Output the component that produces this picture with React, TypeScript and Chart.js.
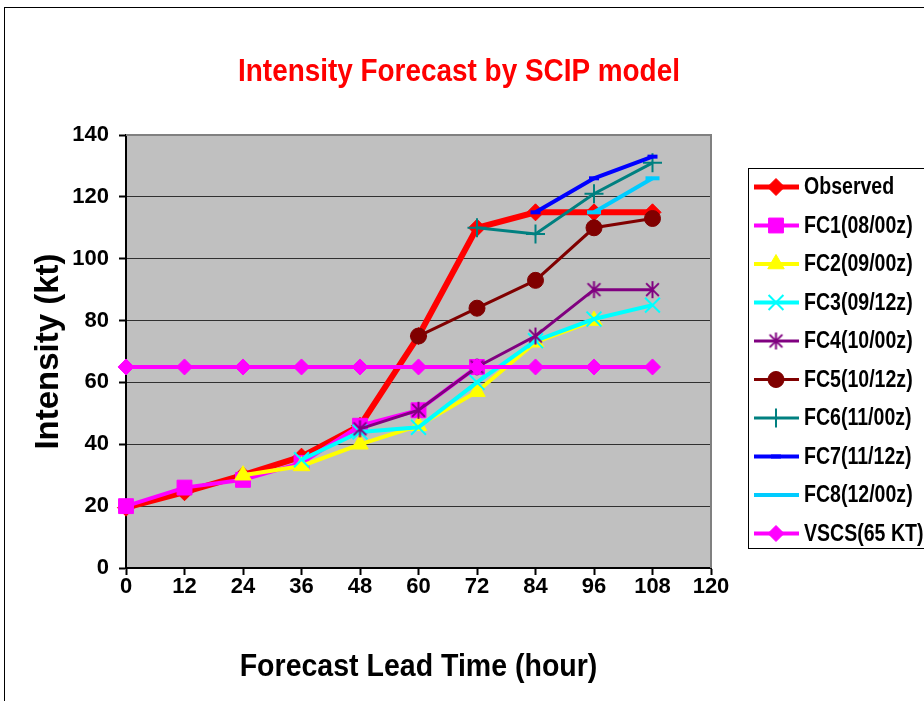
import React, { useEffect, useRef } from 'react';
import { Chart, registerables } from 'chart.js';
import { drawPoint } from 'chart.js/helpers';

Chart.register(...registerables);

const chartTitle = 'Intensity Forecast by SCIP model';
const xTitle = 'Forecast Lead Time (hour)';
const yTitle = 'Intensity (kt)';

const hours = [0, 12, 24, 36, 48, 60, 72, 84, 96, 108];
const xTicks = [0, 12, 24, 36, 48, 60, 72, 84, 96, 108, 120];
const yTicks = [0, 20, 40, 60, 80, 100, 120, 140];

const seriesNames = [
  'Observed',
  'FC1(08/00z)',
  'FC2(09/00z)',
  'FC3(09/12z)',
  'FC4(10/00z)',
  'FC5(10/12z)',
  'FC6(11/00z)',
  'FC7(11/12z)',
  'FC8(12/00z)',
  'VSCS(65 KT)',
];

const observed = [19.5, 24.5, 30, 36, 46, 75, 110, 115, 115, 115];
const fc1 = [20, 26, 28.5, 34, 46, 51, 65, null, null, null];
const fc2 = [null, null, 30, 33, 40, 46, 57, 73, 80, null];
const fc3 = [null, null, null, 35, 44, 45.5, 60, 73.5, 80.5, 85];
const fc4 = [null, null, null, null, 45, 51, 65, 75, 90, 90];
const fc5 = [null, null, null, null, null, 75, 84, 93, 110, 113];
const fc6 = [null, null, null, null, null, null, 110, 108, 121, 131];
const fc7 = [null, null, null, null, null, null, null, 115, 126, 133];
const fc8 = [null, null, null, null, null, null, null, null, 115, 126];
const vscs = [65, 65, 65, 65, 65, 65, 65, 65, 65, 65];

const seriesValues = [observed, fc1, fc2, fc3, fc4, fc5, fc6, fc7, fc8, vscs];

const FONT = '"Liberation Sans", Arial, sans-serif';

function makeAsterisk(color: string, size: number, lw: number) {
  const c = document.createElement('canvas');
  c.width = size;
  c.height = size;
  const g = c.getContext('2d')!;
  g.strokeStyle = color;
  g.lineWidth = lw;
  const cx = size / 2;
  const r = size / 2 - 1;
  const d = r * 0.75;
  g.beginPath();
  g.moveTo(cx, cx - r);
  g.lineTo(cx, cx + r);
  g.moveTo(cx - d, cx - d);
  g.lineTo(cx + d, cx + d);
  g.moveTo(cx + d, cx - d);
  g.lineTo(cx - d, cx + d);
  g.stroke();
  return c;
}

export default function App() {
  const ref = useRef<HTMLCanvasElement | null>(null);

  useEffect(() => {
    document.body.style.margin = '0';
    const canvas = ref.current!;
    const asterisk = makeAsterisk('#800080', 19, 2);

    const styles: any[] = [
      { color: '#FF0000', bw: 6, ps: 'rectRot', r: 8.5, pbw: 1 },
      { color: '#FF00FF', bw: 4, ps: 'rect', r: 10.5, pbw: 1 },
      { color: '#FFFF00', bw: 4, ps: 'triangle', r: 9.5, pbw: 1 },
      { color: '#00FFFF', bw: 4, ps: 'crossRot', r: 10.5, pbw: 2 },
      { color: '#800080', bw: 3, ps: asterisk, r: 9, pbw: 2 },
      { color: '#800000', bw: 3, ps: 'circle', r: 8, pbw: 1 },
      { color: '#008080', bw: 3, ps: 'cross', r: 9.5, pbw: 2 },
      { color: '#0000FF', bw: 4, ps: 'line', r: 5, pbw: 4 },
      { color: '#00CCFF', bw: 4, ps: 'line', r: 7, pbw: 4 },
      { color: '#FF00FF', bw: 4, ps: 'rectRot', r: 8, pbw: 1 },
    ];

    const datasets = seriesValues.map((vals, i) => ({
      label: seriesNames[i],
      data: hours
        .map((h, j) => ({ x: h, y: vals[j] }))
        .filter((p) => p.y !== null),
      borderColor: styles[i].color,
      backgroundColor: styles[i].color,
      borderWidth: styles[i].bw,
      pointStyle: styles[i].ps,
      pointRadius: styles[i].r,
      pointBorderWidth: styles[i].pbw,
      pointBackgroundColor: styles[i].color,
      pointBorderColor: styles[i].color,
      tension: 0,
      clip: false as any,
      order: seriesValues.length - i,
    }));

    const decor = {
      id: 'decor',
      beforeDraw(chart: any) {
        const { ctx, chartArea: a } = chart;
        ctx.save();
        ctx.fillStyle = '#FFFFFF';
        ctx.fillRect(0, 0, chart.width, chart.height);
        ctx.strokeStyle = '#000';
        ctx.lineWidth = 1;
        ctx.strokeRect(4.5, 7.5, 1200, 1200);
        ctx.fillStyle = '#C0C0C0';
        ctx.fillRect(a.left, a.top, a.right - a.left, a.bottom - a.top);
        ctx.restore();
      },
      beforeDatasetsDraw(chart: any) {
        const { ctx, chartArea: a } = chart;
        ctx.save();
        ctx.strokeStyle = '#808080';
        ctx.lineWidth = 2;
        ctx.beginPath();
        ctx.moveTo(a.left, a.top);
        ctx.lineTo(a.right, a.top);
        ctx.lineTo(a.right, a.bottom);
        ctx.stroke();
        ctx.restore();
      },
      afterDraw(chart: any) {
        const { ctx, chartArea: a } = chart;
        ctx.save();
        ctx.textAlign = 'center';
        ctx.textBaseline = 'middle';
        // Title
        ctx.save();
        ctx.translate(459, 72);
        ctx.scale(0.9, 1);
        ctx.fillStyle = '#FF0000';
        ctx.font = `bold 31px ${FONT}`;
        ctx.fillText(chartTitle, 0, 0);
        ctx.restore();

        // X title
        ctx.fillStyle = '#000';
        ctx.save();
        ctx.translate((a.left + a.right) / 2, 667);
        ctx.scale(0.92, 1);
        ctx.font = `bold 31px ${FONT}`;
        ctx.fillText(xTitle, 0, 0);
        ctx.restore();

        // Y title
        ctx.save();
        ctx.translate(49, (a.top + a.bottom) / 2);
        ctx.rotate(-Math.PI / 2);
        ctx.font = `bold 33px ${FONT}`;
        ctx.fillText(yTitle, 0, 0);
        ctx.restore();

        // Legend
        ctx.strokeStyle = '#000';
        ctx.lineWidth = 1;
        ctx.strokeRect(748.5, 168.5, 300, 380);
        chart.data.datasets.forEach((ds: any, i: number) => {
          const y = 187 + i * 38.5;
          ctx.strokeStyle = ds.borderColor;
          ctx.lineWidth = Math.min(ds.borderWidth, 5);
          ctx.beginPath();
          ctx.moveTo(754, y);
          ctx.lineTo(799, y);
          ctx.stroke();
          const ps = ds.pointStyle;
          if (typeof ps === 'string') {
            ctx.fillStyle = ds.pointBackgroundColor;
            ctx.strokeStyle = ds.pointBorderColor;
            ctx.lineWidth = ds.pointBorderWidth;
            drawPoint(ctx, { pointStyle: ps, rotation: 0, radius: ds.pointRadius, borderWidth: ds.pointBorderWidth }, 776, y);
          } else {
            ctx.drawImage(ps, 776 - ps.width / 2, y - ps.height / 2);
          }
          ctx.save();
          ctx.translate(804, y + 1);
          ctx.scale(0.85, 1);
          ctx.fillStyle = '#000';
          ctx.font = `bold 23px ${FONT}`;
          ctx.textAlign = 'left';
          ctx.textBaseline = 'middle';
          ctx.fillText(ds.label, 0, 0);
          ctx.restore();
        });
        ctx.restore();
      },
    };

    const chart = new Chart(canvas, {
      type: 'line',
      data: { datasets: datasets as any },
      options: {
        animation: false,
        responsive: false,
        devicePixelRatio: 1,
        layout: { padding: { left: 66, right: 213, top: 135, bottom: 83 } },
        plugins: {
          legend: { display: false },
          title: { display: false },
          tooltip: { enabled: false },
        },
        scales: {
          x: {
            type: 'linear',
            min: xTicks[0],
            max: xTicks[xTicks.length - 1],
            afterBuildTicks: (s: any) => {
              s.ticks = xTicks.map((v) => ({ value: v }));
            },
            afterFit: (s: any) => {
              s.height = 50;
            },
            ticks: {
              color: '#000',
              font: { family: FONT, weight: 'bold', size: 22 },
              padding: -1,
              maxRotation: 0,
              autoSkip: false,
            },
            grid: {
              drawOnChartArea: false,
              drawTicks: true,
              tickLength: 7,
              tickColor: '#000',
              tickWidth: 2,
            },
            border: { color: '#000', width: 2 },
          },
          y: {
            type: 'linear',
            min: yTicks[0],
            max: yTicks[yTicks.length - 1],
            afterBuildTicks: (s: any) => {
              s.ticks = yTicks.map((v) => ({ value: v }));
            },
            afterFit: (s: any) => {
              s.width = 60;
            },
            ticks: {
              color: '#000',
              font: { family: FONT, weight: 'bold', size: 22 },
              padding: 10,
            },
            grid: {
              color: '#303030',
              lineWidth: 1,
              tickLength: 7,
              tickColor: '#000',
              tickWidth: 2,
            },
            border: { color: '#000', width: 2 },
          },
        },
      },
      plugins: [decor],
    });

    return () => chart.destroy();
  }, []);

  return (
    <div style={{ width: 924, height: 701, overflow: 'hidden' }}>
      <canvas ref={ref} width={924} height={701} style={{ display: 'block' }} />
    </div>
  );
}
